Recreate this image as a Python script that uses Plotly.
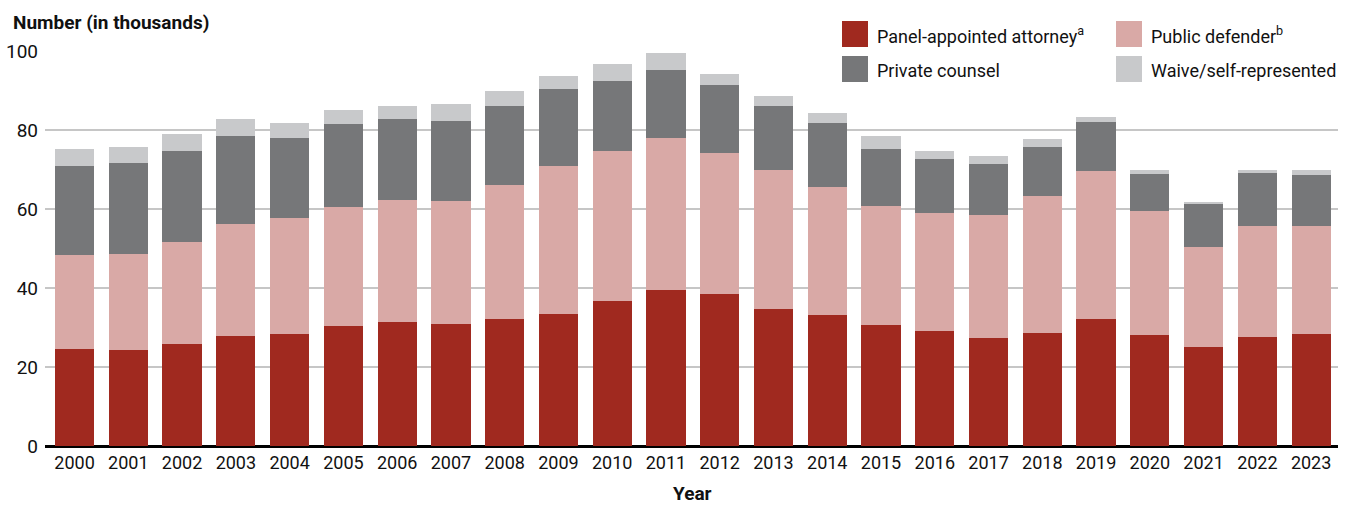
import plotly.graph_objects as go

years = [str(y) for y in range(2000, 2024)]
panel = [24.5, 24.3, 25.8, 27.8, 28.3, 30.3, 31.4, 30.8, 32.1, 33.4, 36.7, 39.4,
         38.4, 34.6, 33.1, 30.6, 29.1, 27.3, 28.6, 32.1, 28.1, 25.0, 27.6, 28.3]
public = [23.8, 24.2, 25.8, 28.3, 29.3, 30.1, 30.8, 31.1, 34.1, 37.6, 38.1, 38.5,
          35.9, 35.2, 32.4, 30.1, 29.8, 31.1, 34.6, 37.4, 31.3, 25.3, 28.0, 27.3]
private = [22.5, 23.1, 23.0, 22.3, 20.3, 21.0, 20.7, 20.3, 19.8, 19.3, 17.7, 17.4,
           17.2, 16.4, 16.2, 14.6, 13.7, 12.9, 12.4, 12.4, 9.4, 10.9, 13.4, 12.9]
waive = [4.5, 4.0, 4.3, 4.5, 3.8, 3.6, 3.3, 4.3, 3.8, 3.3, 4.1, 4.1,
         2.8, 2.3, 2.5, 3.3, 2.2, 2.0, 2.0, 1.5, 1.0, 0.7, 1.0, 1.5]

names = ["Panel-appointed attorney<sup>a</sup>", "Public defender<sup>b</sup>",
         "Private counsel", "Waive/self-represented"]
colors = ["#A0291F", "#D9A9A6", "#767779", "#C8C9CB"]
series = [panel, public, private, waive]

FONT = "Roboto, sans-serif"

fig = go.Figure()
for nm, col, vals in zip(names, colors, series):
    fig.add_trace(go.Bar(x=years, y=vals, name=nm, marker=dict(color=col, line=dict(width=0)),
                         showlegend=False))

W, H = 1351, 505
L, R, T, B = 45, 13, 51, 59
pw, ph = W - L - R, H - T - B


def px(x):
    return (x - L) / pw


def py(y):
    return (H - B - y) / ph


shapes = []
annotations = []
legend_pos = [(842, 21), (1116, 21), (842, 56), (1116, 56)]
for (lx, ly), nm, col in zip(legend_pos, names, colors):
    shapes.append(dict(type="rect", xref="paper", yref="paper",
                       x0=px(lx), x1=px(lx + 26), y0=py(ly + 26), y1=py(ly),
                       fillcolor=col, line=dict(width=0)))
    annotations.append(dict(text=nm, xref="paper", yref="paper", x=px(lx + 33), y=py(ly + 14),
                            xanchor="left", yanchor="middle", showarrow=False,
                            font=dict(family=FONT, size=18, color="#111")))

annotations.append(dict(text="<b>Number (in thousands)</b>", xref="paper", yref="paper",
                        x=px(11), y=py(22), xanchor="left", yanchor="middle", showarrow=False,
                        font=dict(family=FONT, size=19, color="#111")))
annotations.append(dict(text="<b>Year</b>", xref="paper", yref="paper",
                        x=px(692), y=py(493), xanchor="center", yanchor="middle", showarrow=False,
                        font=dict(family=FONT, size=19, color="#111")))

fig.update_layout(
    width=W, height=H,
    barmode="stack", bargap=0.27,
    margin=dict(l=L, r=R, t=T, b=B, autoexpand=False),
    plot_bgcolor="white", paper_bgcolor="white",
    font=dict(family=FONT, size=20, color="#111"),
    shapes=shapes, annotations=annotations,
    xaxis=dict(tickfont=dict(size=18), showgrid=False, ticks="", showline=False,
               range=[-0.55, 23.5], automargin=False, ticklabelstandoff=4),
    yaxis=dict(range=[0, 100], tickvals=[0, 20, 40, 60, 80, 100], showgrid=True,
               gridcolor="#C6C6C6", gridwidth=1.5, zeroline=True, zerolinecolor="#000",
               zerolinewidth=3, tickfont=dict(size=19), ticks="", ticklabelstandoff=6,
               automargin=False),
)

fig.write_html("out.html", config={"displayModeBar": False},
               post_script="document.body.style.margin='0';document.body.style.padding='0';"
                           "document.body.style.overflow='hidden';")
